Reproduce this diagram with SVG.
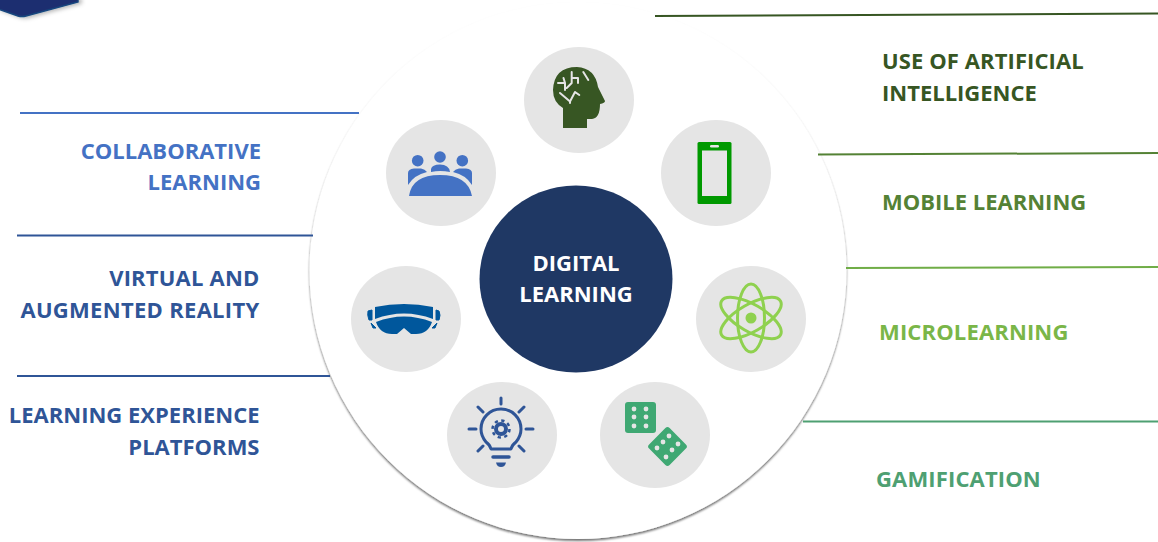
<svg xmlns="http://www.w3.org/2000/svg" width="1158" height="542" viewBox="0 0 1158 542">
<style>
text{font-family:"Open Sans","Noto Sans","Liberation Sans",sans-serif;font-weight:700;font-size:22px}
.r{text-anchor:end}
.m{text-anchor:middle}
.bg{fill:#e5e5e5}
.ln{fill:none;stroke-width:2}
</style>
<defs>
<filter id="sh" x="-5%" y="-5%" width="110%" height="110%"><feDropShadow dx="0" dy="2" stdDeviation="1.200" flood-color="#000" flood-opacity="0.55"/></filter>
<filter id="sh2" x="-10%" y="-50%" width="120%" height="220%"><feDropShadow dx="3" dy="1" stdDeviation="2" flood-color="#000" flood-opacity="0.3"/></filter>
</defs>
<g id="badge"><path d="M-2,-2H78V2L26,16Q22,17 18,16L-2,9Z" fill="#1f2f6f" stroke="#17477e" stroke-width="1.500" filter="url(#sh2)"/></g>
<g id="disc"><circle cx="578" cy="270.500" r="268.500" fill="#fff" filter="url(#sh)"/></g>
<g id="connectors">
<path class="ln" stroke="#4472c4" d="M20,113H359"/>
<path class="ln" stroke="#2f5597" d="M17,235.500H313"/>
<path class="ln" stroke="#2f5597" d="M17,376H330"/>
<path class="ln" stroke="#375623" d="M655,16L1158,13.500"/>
<path class="ln" stroke="#548235" d="M818,154.500L1158,153"/>
<path class="ln" stroke="#70ad47" d="M846,268L1158,267"/>
<path class="ln" stroke="#4ea072" d="M803,421.500H1158"/>
</g>
<g id="center"><ellipse cx="576" cy="279" rx="96.500" ry="93.500" fill="#1f3864"/>
<text class="m" x="576" y="271" fill="#fff">DIGITAL</text><text class="m" x="576" y="302" fill="#fff">LEARNING</text></g>
<g id="ai">
<ellipse class="bg" cx="579" cy="100" rx="55" ry="53"/>
<path d="M563,128V108Q553,102 553,90Q554,67 577,67Q595,68 598,87L605,101Q605,103 600,104Q600,118 592,119H587V128Z" fill="#375623"/>
<g fill="none" stroke="#e5e5e5" stroke-width="2" stroke-linecap="round" stroke-linejoin="round"><path d="M571.700,72V83L566.700,88M571.700,78H578V83M558,83H565M563.500,78L565,83V90M560,93L570,101.500L575,92L579.300,95M570,101.500V103M583.300,72L588.300,80"/></g>
<text x="882" y="68.500" fill="#375623" style="letter-spacing:.1px">USE OF ARTIFICIAL</text><text x="882" y="100.500" fill="#375623">INTELLIGENCE</text>
</g>
<g id="mobile">
<ellipse class="bg" cx="716" cy="173" rx="55" ry="53"/>
<rect x="697.500" y="142" width="34" height="62" rx="1.500" fill="#009900"/>
<rect x="702" y="150.500" width="25" height="45.500" fill="#e5e5e5"/>
<rect x="710" y="145" width="9" height="2.500" rx="1.200" fill="#e5e5e5"/>
<text x="882" y="209.500" fill="#548235">MOBILE LEARNING</text>
</g>
<g id="micro">
<ellipse class="bg" cx="751" cy="319" rx="55" ry="53"/>
<g fill="none" stroke="#8fd14f" stroke-width="3"><ellipse cx="751" cy="318" rx="13.500" ry="34"/><ellipse cx="751" cy="318" rx="13.500" ry="34" transform="rotate(60 751 318)"/><ellipse cx="751" cy="318" rx="13.500" ry="34" transform="rotate(-60 751 318)"/></g>
<circle cx="751" cy="318" r="5.500" fill="#8fd14f"/>
<text x="879" y="339.500" fill="#7ab648" style="letter-spacing:.15px">MICROLEARNING</text>
</g>
<g id="gamification">
<ellipse class="bg" cx="655" cy="435" rx="55" ry="53"/>
<rect x="625" y="402" width="31" height="31" rx="3" fill="#3fa873"/>
<rect x="653" y="432" width="29" height="29" rx="3" fill="#3fa873" transform="rotate(45 667.500 446.500)"/>
<g fill="#e5e5e5"><circle cx="634" cy="409" r="2.400"/><circle cx="646" cy="409" r="2.400"/><circle cx="634" cy="417" r="2.400"/><circle cx="646" cy="417" r="2.400"/><circle cx="634" cy="426" r="2.400"/><circle cx="646" cy="426" r="2.400"/><circle cx="669" cy="436" r="2.400"/><circle cx="663" cy="442" r="2.400"/><circle cx="657" cy="448" r="2.400"/><circle cx="678" cy="444" r="2.400"/><circle cx="672" cy="450" r="2.400"/><circle cx="666" cy="457" r="2.400"/></g>
<text x="876" y="486.500" fill="#4ea072" style="letter-spacing:.15px">GAMIFICATION</text>
</g>
<g id="lxp">
<ellipse class="bg" cx="502" cy="435" rx="55" ry="53"/>
<g fill="none" stroke="#2f5597" stroke-width="3" stroke-linecap="round" stroke-linejoin="round"><path d="M491,449Q490,445 486,442Q481,436 481,429A20,20 0 0 1 521,429Q521,436 516,442Q512,445 511,449Z"/><path d="M501,398V404M478,407L483,412M524,407L519,412M469,429H476M526,429H533M478,451L483,446M524,451L519,446"/><path d="M493,457H509" stroke-width="3.500"/></g>
<path d="M496,462.500H506Q505,467 501,467Q497,467 496,462.500Z" fill="#2f5597"/>
<circle cx="501" cy="429" r="5" fill="none" stroke="#2f5597" stroke-width="4"/>
<circle cx="501" cy="429" r="8.500" fill="none" stroke="#2f5597" stroke-width="2.500" stroke-dasharray="3.300 3.370"/>
<text class="r" x="259.500" y="422.500" fill="#2f5597">LEARNING EXPERIENCE</text><text class="r" x="259.500" y="454.500" fill="#2f5597">PLATFORMS</text>
</g>
<g id="vr">
<ellipse class="bg" cx="406" cy="319" rx="55" ry="53"/>
<path d="M375,307Q404,301 433,307V319Q404,308 375,319Z" fill="#00579c"/>
<path d="M376,322Q404,311 432,322Q428,334 416,334H411L404,328L397,334H392Q380,334 376,322Z" fill="#00579c"/>
<path d="M368,311L372,310V320L369,320Q367,315 368,311ZM439,311L436,310V320L439,320Q441,315 439,311ZM371,323L376,328L373,328ZM437,323L432,328L435,328Z" fill="#00579c" stroke="#00579c" stroke-width="1"/>
<text class="r" x="259.500" y="285.500" fill="#2f5597" style="letter-spacing:.2px">VIRTUAL AND</text><text class="r" x="259.500" y="317.500" fill="#2f5597" style="letter-spacing:.3px">AUGMENTED REALITY</text>
</g>
<g id="collab">
<ellipse class="bg" cx="441" cy="173" rx="55" ry="53"/>
<g fill="#4472c4"><circle cx="417.700" cy="160.700" r="5.800"/><circle cx="440" cy="157" r="5.800"/><circle cx="462.300" cy="160.700" r="5.800"/>
<path d="M408,185V173Q408,169 414,168.500H421Q425,169 427,172Q414,175 408,185Z"/><path d="M472,185V173Q472,169 466,168.500H459Q455,169 453,172Q466,175 472,185Z"/><path d="M431,172V169Q432,164.500 440,164.500Q449,164.500 450,172Q440,170 431,172Z"/>
<path d="M409,196Q412,175 440,175Q468,175 472,196Z"/></g>
<text class="r" x="261" y="158.500" fill="#4472c4">COLLABORATIVE</text><text class="r" x="261" y="189.500" fill="#4472c4">LEARNING</text>
</g>
</svg>
